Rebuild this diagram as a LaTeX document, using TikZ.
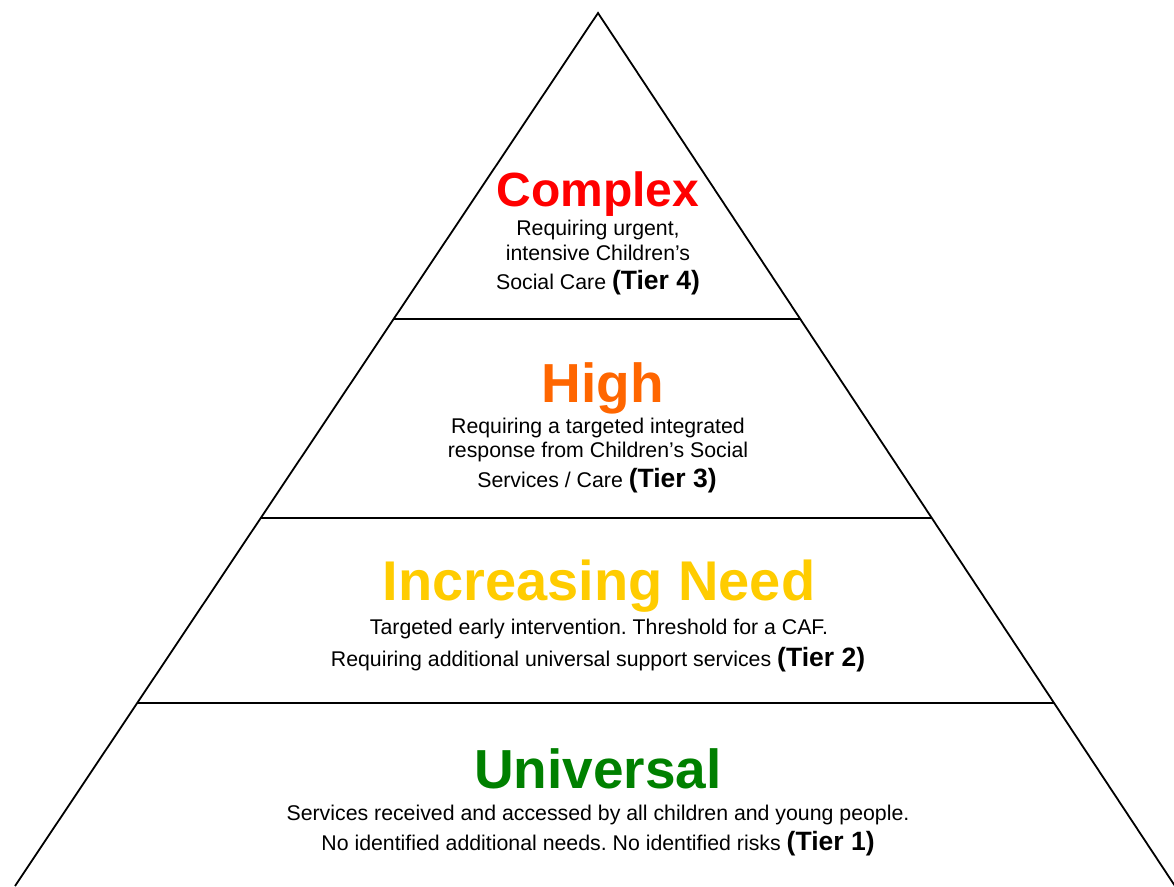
\documentclass[tikz,border=0pt]{standalone}
\usepackage{fontspec}
\setmainfont{Liberation Sans}
\usetikzlibrary{calc}
\definecolor{cRed}{HTML}{FF0000}
\definecolor{cOrange}{HTML}{FF6600}
\definecolor{cGold}{HTML}{FFCC00}
\definecolor{cGreen}{HTML}{008000}
\newcommand\tiertag[1]{{\fontsize{26.5}{28}\selectfont\bfseries (Tier #1)}}
\frenchspacing
\begin{document}
\begin{tikzpicture}[x=1pt,y=-1pt,
  edge/.style={line width=1.8pt, line join=miter},
  divider/.style={line width=1.8pt},
  bigtitle/.style={font=\fontsize{55}{60}\selectfont\bfseries, anchor=base, inner sep=0pt},
  bodyline/.style={font=\fontsize{21.3}{24}\selectfont\frenchspacing, anchor=base, inner sep=0pt}]
\useasboundingbox (0,0) rectangle (1174,886);
\coordinate (apex) at (598,13);
\coordinate (bl) at (15,886);
\coordinate (br) at (1175,886);
\draw[edge] (bl) -- (apex) -- (br);
% dividers
\coordinate (l1) at ($(apex)!0.3505!(bl)$);
\coordinate (r1) at ($(apex)!0.3505!(br)$);
\coordinate (l2) at ($(apex)!0.5785!(bl)$);
\coordinate (r2) at ($(apex)!0.5785!(br)$);
\coordinate (l3) at ($(apex)!0.7904!(bl)$);
\coordinate (r3) at ($(apex)!0.7904!(br)$);
\draw[divider] (l1) -- (r1);
\draw[divider] (l2) -- (r2);
\draw[divider] (l3) -- (r3);
% Tier 4
\node[bigtitle, text=cRed, font=\fontsize{48}{52}\selectfont\bfseries] (t4) at (598,206) {Complex};
\node[bodyline] (t4a) at (598,235) {Requiring urgent,};
\node[bodyline] (t4b) at (598,260) {intensive Children’s};
\node[bodyline] (t4c) at (598,289) {Social Care \tiertag{4}};
% Tier 3
\node[bigtitle, text=cOrange] (t3) at (603,402) {High};
\node[bodyline] (t3a) at (598,433) {Requiring a targeted integrated};
\node[bodyline] (t3b) at (598,457) {response from Children’s Social};
\node[bodyline] (t3c) at (597,487) {Services / Care \tiertag{3}};
% Tier 2
\node[bigtitle, text=cGold, font=\fontsize{56}{60}\selectfont\bfseries] (t2) at (599,600) {Increasing Need};
\node[bodyline] (t2a) at (599,634) {Targeted early intervention. Threshold for a CAF.};
\node[bodyline] (t2b) at (598,666) {Requiring additional universal support services \tiertag{2}};
% Tier 1
\node[bigtitle, text=cGreen] (t1) at (598,788) {Universal};
\node[bodyline] (t1a) at (598,820) {Services received and accessed by all children and young people.};
\node[bodyline] (t1b) at (598,850) {No identified additional needs. No identified risks \tiertag{1}};
\end{tikzpicture}
\end{document}
